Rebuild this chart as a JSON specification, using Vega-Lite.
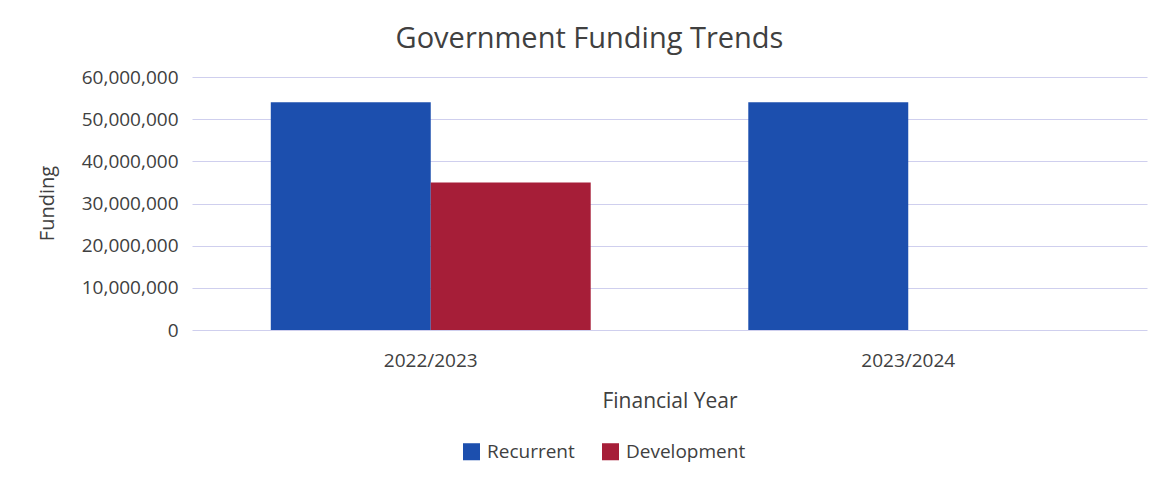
{
  "$schema": "https://vega.github.io/schema/vega-lite/v6.json",
  "width": 955,
  "height": 253,
  "autosize": "none",
  "padding": {"left": 192, "top": 77, "right": 18, "bottom": 158},
  "background": "white",
  "title": {
    "text": "Government Funding Trends",
    "font": "Open Sans",
    "fontSize": 29,
    "fontWeight": "normal",
    "color": "#404040",
    "anchor": "middle",
    "dx": -80,
    "offset": 14
  },
  "data": {
    "values": [
      {"year": "2022/2023", "type": "Recurrent", "funding": 54000000},
      {"year": "2022/2023", "type": "Development", "funding": 35000000},
      {"year": "2023/2024", "type": "Recurrent", "funding": 54000000},
      {"year": "2023/2024", "type": "Development", "funding": 0}
    ]
  },
  "mark": {"type": "bar"},
  "encoding": {
    "x": {
      "field": "year",
      "type": "nominal",
      "scale": {"paddingInner": 0.33, "paddingOuter": 0.165},
      "axis": {
        "title": "Financial Year",
        "labelAngle": 0,
        "domain": false,
        "ticks": false,
        "labelPadding": 21,
        "labelFont": "Open Sans",
        "labelFontSize": 19,
        "labelColor": "#404040",
        "titleFont": "Open Sans",
        "titleFontSize": 21,
        "titleFontWeight": "normal",
        "titleColor": "#404040",
        "titleBaseline": "alphabetic",
        "titleY": 77
      }
    },
    "xOffset": {
      "field": "type",
      "type": "nominal",
      "sort": ["Recurrent", "Development"],
      "scale": {"paddingInner": 0, "paddingOuter": 0}
    },
    "y": {
      "field": "funding",
      "type": "quantitative",
      "scale": {"domain": [0, 60000000], "nice": false},
      "axis": {
        "title": "Funding",
        "values": [0, 10000000, 20000000, 30000000, 40000000, 50000000, 60000000],
        "format": ",d",
        "domain": false,
        "ticks": false,
        "labelPadding": 14,
        "labelFont": "Open Sans",
        "labelFontSize": 19,
        "labelColor": "#404040",
        "gridColor": "#cfcfee",
        "gridWidth": 1,
        "titleFont": "Open Sans",
        "titleFontSize": 20,
        "titleFontWeight": "normal",
        "titleColor": "#404040",
        "titleAngle": -90,
        "titleAlign": "center",
        "titleBaseline": "middle",
        "titleX": -145,
        "titleY": 126
      }
    },
    "color": {
      "field": "type",
      "type": "nominal",
      "sort": ["Recurrent", "Development"],
      "scale": {"domain": ["Recurrent", "Development"], "range": ["#1c4fae", "#a61e38"]},
      "legend": {
        "title": null,
        "orient": "none",
        "direction": "horizontal",
        "legendX": 270,
        "legendY": 365,
        "symbolType": "square",
        "symbolSize": 290,
        "symbolStrokeWidth": 0,
        "labelFont": "Open Sans",
        "labelFontSize": 19,
        "labelColor": "#404040",
        "labelOffset": 6,
        "columnPadding": 26
      }
    }
  },
  "config": {
    "view": {"stroke": null}
  }
}
